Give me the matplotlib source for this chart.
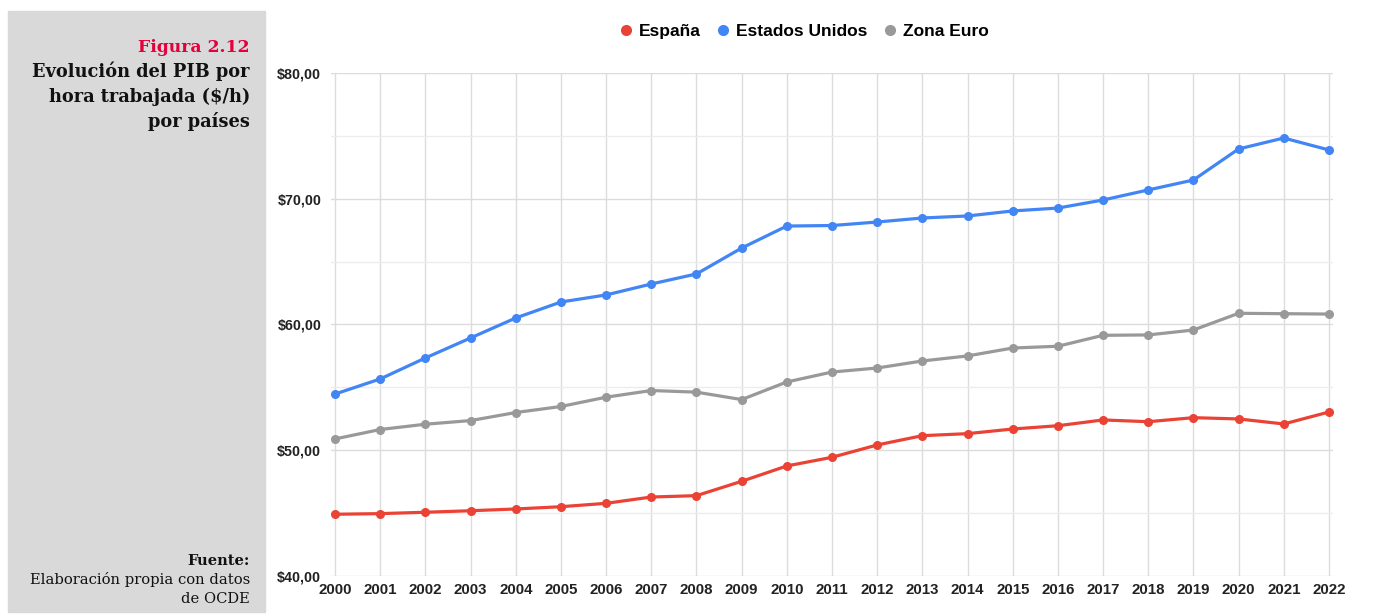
import matplotlib.pyplot as plt
from matplotlib.patches import Rectangle
from matplotlib.lines import Line2D
from matplotlib.ticker import MultipleLocator, FuncFormatter

years = list(range(2000, 2023))

espana = [44.91, 44.96, 45.07, 45.19, 45.33, 45.51, 45.78, 46.28, 46.39, 47.53,
          48.75, 49.44, 50.42, 51.16, 51.32, 51.69, 51.95, 52.41, 52.27, 52.59,
          52.49, 52.09, 53.04]
eeuu = [54.47, 55.67, 57.34, 58.93, 60.52, 61.79, 62.35, 63.22, 64.02, 66.08,
        67.83, 67.87, 68.15, 68.47, 68.63, 69.03, 69.26, 69.90, 70.70, 71.49,
        73.96, 74.83, 73.88]
zona_euro = [50.90, 51.65, 52.07, 52.36, 53.00, 53.48, 54.22, 54.75, 54.62, 54.03,
             55.43, 56.22, 56.54, 57.10, 57.50, 58.13, 58.27, 59.14, 59.17, 59.56,
             60.89, 60.86, 60.83]

series = [("España", espana, "#ea4335"),
          ("Estados Unidos", eeuu, "#4285f4"),
          ("Zona Euro", zona_euro, "#999999")]

W, H = 1377, 614
fig = plt.figure(figsize=(W / 100, H / 100), dpi=100)

# left grey panel
fig.patches.append(Rectangle((8 / W, 1 - 612 / H), 257 / W, 601 / H,
                             transform=fig.transFigure, color="#d9d9d9", zorder=0))

serif = "DejaVu Serif"
tx = 250 / W
fig.text(tx, 1 - 52 / H, "Figura 2.12", ha="right", va="baseline",
         family=serif, weight="bold", size=12.4, color="#e4003b")
for i, line in enumerate(["Evolución del PIB por", "hora trabajada ($/h)", "por países"]):
    fig.text(tx, 1 - (77 + 25 * i) / H, line, ha="right", va="baseline",
             family=serif, weight="bold", size=12.8, color="#111111")
fig.text(tx, 1 - 565 / H, "Fuente:", ha="right", va="baseline",
         family=serif, weight="bold", size=10.5, color="#111111")
fig.text(tx, 1 - 584 / H, "Elaboración propia con datos", ha="right", va="baseline",
         family=serif, size=10.6, color="#111111")
fig.text(tx, 1 - 603 / H, "de OCDE", ha="right", va="baseline",
         family=serif, size=10.6, color="#111111")

ax = fig.add_axes([331 / W, 1 - 576 / H, (1333 - 331) / W, (576 - 73) / H])

for name, vals, col in series:
    ax.plot(years, vals, color=col, lw=2.3, marker="o", ms=5.5, zorder=3)

ax.set_xlim(1999.91, 2022.09)
ax.set_ylim(40, 80)
ax.set_xticks(years)
ax.yaxis.set_major_locator(MultipleLocator(10))
ax.yaxis.set_minor_locator(MultipleLocator(5))
ax.yaxis.set_major_formatter(FuncFormatter(lambda v, p: f"${v:.2f}".replace(".", ",")))

ax.grid(axis="x", color="#dcdcdc", lw=1)
ax.grid(axis="y", which="major", color="#dcdcdc", lw=1)
ax.grid(axis="y", which="minor", color="#ececec", lw=1)
ax.set_axisbelow(True)
for s in ax.spines.values():
    s.set_visible(False)
ax.tick_params(axis="both", which="both", length=0)
ax.tick_params(axis="y", pad=7)
ax.tick_params(axis="x", pad=5)
for lab in ax.get_xticklabels():
    lab.set_family("Liberation Sans")
    lab.set_weight("bold")
    lab.set_fontsize(10.8)
    lab.set_color("#222222")
for lab in ax.get_yticklabels():
    lab.set_family("Liberation Sans")
    lab.set_weight("bold")
    lab.set_fontsize(10.3)
    lab.set_color("#222222")

handles = [Line2D([], [], color=c, marker="o", ls="", ms=7) for _, _, c in series]
fig.legend(handles, [n for n, _, _ in series], loc="center", bbox_to_anchor=(804 / W, 1 - 31 / H),
           ncol=3, frameon=False, handlelength=0.8, handletextpad=0.35, columnspacing=0.9,
           prop={"family": "Liberation Sans", "weight": "bold", "size": 12.5})

fig.savefig("out.png", dpi=100)
